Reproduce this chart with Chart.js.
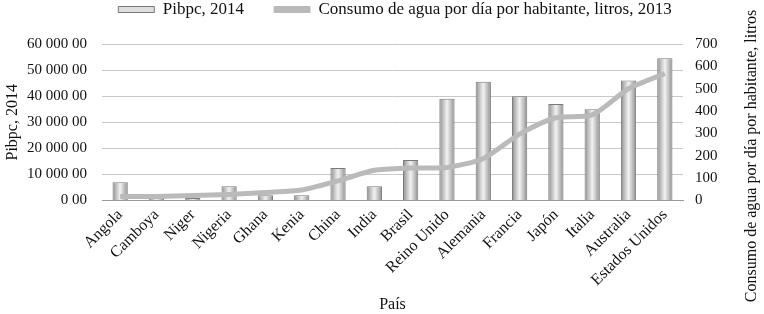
<!DOCTYPE html>
<html>
<head>
<meta charset="utf-8">
<script src="https://cdn.jsdelivr.net/npm/chart.js@4"></script>
<style>
  html,body{margin:0;padding:0;background:#fff;}
  #wrap{position:relative;width:764px;height:314px;}
</style>
</head>
<body>
<div id="wrap"><canvas id="c" width="764" height="314"></canvas></div>
<script>
// data
const paises = ['Angola','Camboya','Niger','Nigeria','Ghana','Kenia','China','India','Brasil','Reino Unido','Alemania','Francia','Japón','Italia','Australia','Estados Unidos'];
const pibpc = [7000, 2500, 1000, 5500, 2000, 2000, 12500, 5500, 15500, 39000, 45500, 40000, 37000, 35000, 46000, 54500];
const consumo = [18, 18, 22, 27, 36, 47, 88, 135, 145, 148, 188, 297, 370, 383, 500, 568];
const pibTicks = [0, 10000, 20000, 30000, 40000, 50000, 60000];
const consumoTicks = [0, 100, 200, 300, 400, 500, 600, 700];

const FONT = '"Liberation Serif", "DejaVu Serif", serif';
const rightTitle = 'Consumo de agua por día por habitante, litros';

function fmtPib(v) {
  const s = String(Math.round(v)).replace(/\B(?=(\d{3})+(?!\d))/g, ' ');
  return s + ' 00';
}

// cylinder-ish shading across each bar
function barFill(ctx) {
  const chart = ctx.chart;
  const xs = chart.scales && chart.scales.x;
  if (!chart.chartArea || !xs || ctx.dataIndex == null) return '#c8c8c8';
  const cx = xs.getPixelForValue(ctx.dataIndex);
  const w = 15;
  const g = chart.ctx.createLinearGradient(cx - w/2, 0, cx + w/2, 0);
  g.addColorStop(0, '#8c8c8c');
  g.addColorStop(0.2, '#b9b9b9');
  g.addColorStop(0.5, '#f2f2f2');
  g.addColorStop(0.8, '#b9b9b9');
  g.addColorStop(1, '#8c8c8c');
  return g;
}

// legend: wide gap between the two items but a short box at the very top
const LEGEND_PAD = 30;
const legendTweak = {
  id: 'legendTweak',
  beforeLayout(chart) {
    const lg = chart.legend;
    if (lg && !lg._tweaked) {
      const fit = lg.fit.bind(lg);
      lg.fit = function () { fit(); this.height = 44; };
      lg._tweaked = true;
    }
  },
  afterLayout(chart) {
    const lg = chart.legend;
    if (!lg) return;
    lg.top -= LEGEND_PAD - 1;
    lg.left += 30;
    lg.right += 30;
  }
};

const rightTitlePlugin = {
  id: 'rightTitle',
  afterDraw(chart) {
    const c = chart.ctx;
    c.save();
    c.font = '16px ' + FONT;
    c.fillStyle = '#111';
    c.textAlign = 'center';
    c.textBaseline = 'middle';
    c.translate(752, 156);
    c.rotate(-Math.PI/2);
    c.fillText(rightTitle, 0, 0);
    c.restore();
  }
};

Chart.defaults.font.family = FONT;
Chart.defaults.color = '#111';

new Chart(document.getElementById('c'), {
  data: {
    labels: paises,
    datasets: [
      {
        type: 'bar',
        label: 'Pibpc, 2014',
        data: pibpc,
        yAxisID: 'y',
        backgroundColor: barFill,
        borderColor: '#7a7a7a',
        borderWidth: 1,
        categoryPercentage: 1,
        barPercentage: 0.42,
        order: 2
      },
      {
        type: 'line',
        label: 'Consumo de agua por día por habitante, litros, 2013',
        data: consumo,
        yAxisID: 'y1',
        borderColor: '#bababa',
        backgroundColor: '#bababa',
        borderWidth: 5,
        pointRadius: 0,
        tension: 0.25,
        order: 1
      }
    ]
  },
  options: {
    responsive: false,
    animation: false,
    layout: { padding: { left: 0, right: 34, top: 0, bottom: 0 } },
    plugins: {
      legend: {
        position: 'top',
        labels: {
          font: { size: 17 },
          color: '#111',
          boxWidth: 36,
          boxHeight: 6,
          padding: LEGEND_PAD,
          sort: (a, b) => a.datasetIndex - b.datasetIndex,
          generateLabels(chart) {
            const items = Chart.defaults.plugins.legend.labels.generateLabels(chart);
            items.forEach(it => {
              if (it.datasetIndex === 0) {
                it.fillStyle = '#dedede';
                it.strokeStyle = '#777';
                it.lineWidth = 1;
              } else {
                it.fillStyle = '#bababa';
                it.strokeStyle = '#bababa';
                it.lineWidth = 1;
              }
            });
            return items;
          }
        }
      },
      tooltip: { enabled: false }
    },
    scales: {
      x: {
        grid: { display: false, drawTicks: false },
        border: { color: '#9a9a9a' },
        ticks: { font: { size: 16 }, color: '#111', maxRotation: 45, minRotation: 45, autoSkip: false, padding: 5 },
        title: { display: true, text: 'País', font: { size: 16 }, color: '#111', padding: { top: 0, bottom: 0 } }
      },
      y: {
        position: 'left',
        min: 0, max: 60000,
        afterBuildTicks(axis) { axis.ticks = pibTicks.map(v => ({ value: v })); },
        afterFit(axis) { axis.width = 102; },
        grid: { color: '#c8c8c8', drawTicks: false },
        border: { display: false },
        ticks: { font: { size: 15 }, color: '#111', padding: 15, callback: v => fmtPib(v) },
        title: { display: true, text: 'Pibpc, 2014', font: { size: 16 }, color: '#111', padding: { top: 3, bottom: 2 } }
      },
      y1: {
        position: 'right',
        min: 0, max: 700,
        afterBuildTicks(axis) { axis.ticks = consumoTicks.map(v => ({ value: v })); },
        afterFit(axis) { axis.width = 47; },
        grid: { display: false, drawTicks: false },
        border: { display: false },
        ticks: { font: { size: 15 }, color: '#111', padding: 12 }
      }
    }
  },
  plugins: [legendTweak, rightTitlePlugin]
});
</script>
</body>
</html>
